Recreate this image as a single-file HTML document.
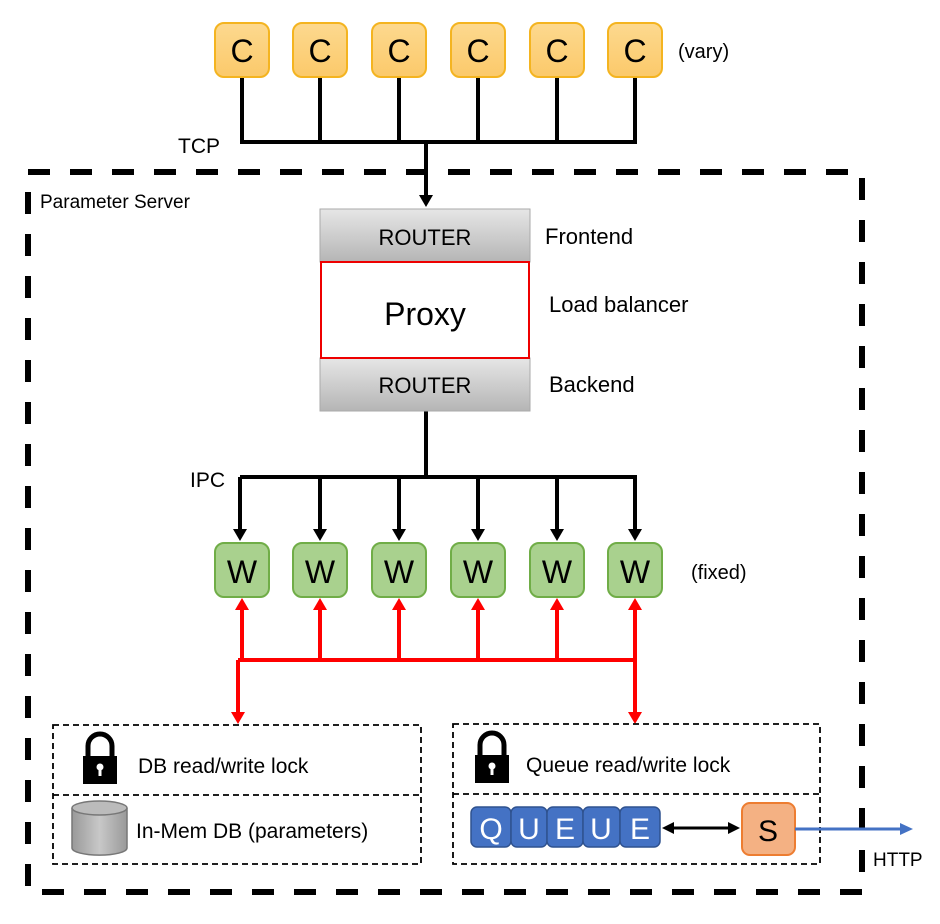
<!DOCTYPE html>
<html><head><style>body{margin:0;background:#fff}svg{display:block}text{font-family:"Liberation Sans",sans-serif}</style></head><body>
<svg width="940" height="924" viewBox="0 0 940 924" xmlns="http://www.w3.org/2000/svg">
<defs>
<linearGradient id="g" x1="0" y1="0" x2="0" y2="1"><stop offset="0" stop-color="#e6e6e6"/><stop offset="1" stop-color="#b5b5b5"/></linearGradient>
<linearGradient id="cg" x1="0" y1="0" x2="0" y2="1"><stop offset="0" stop-color="#fdd98f"/><stop offset="1" stop-color="#fbc96a"/></linearGradient>
<linearGradient id="dbg" x1="0" y1="0" x2="1" y2="0"><stop offset="0" stop-color="#999"/><stop offset=".5" stop-color="#c8c8c8"/><stop offset="1" stop-color="#999"/></linearGradient>
</defs>
<rect x="28" y="172" width="834" height="720" fill="none" stroke="#000" stroke-width="6" stroke-dasharray="22 20"/>
<text x="40" y="208" font-size="19">Parameter Server</text>
<g stroke="#000" stroke-width="4" fill="none">
<path d="M242 77V142M320 77V142M399 77V142M478 77V142M557 77V142M635 77V142M240 142H637M426 142V196"/>
<path d="M426 411V477M240 477H637M240 477V530M320 477V530M399 477V530M478 477V530M557 477V530M635 477V530"/>
</g>
<g fill="#000">
<polygon points="419,195 433,195 426,207"/>
<polygon points="233,529 247,529 240,541"/><polygon points="313,529 327,529 320,541"/><polygon points="392,529 406,529 399,541"/><polygon points="471,529 485,529 478,541"/><polygon points="550,529 564,529 557,541"/><polygon points="628,529 642,529 635,541"/>
</g>
<g font-size="32" text-anchor="middle">
<g fill="url(#cg)" stroke="#f4b420" stroke-width="2">
<rect x="215" y="23" width="54" height="54" rx="9"/><rect x="293" y="23" width="54" height="54" rx="9"/><rect x="372" y="23" width="54" height="54" rx="9"/><rect x="451" y="23" width="54" height="54" rx="9"/><rect x="530" y="23" width="54" height="54" rx="9"/><rect x="608" y="23" width="54" height="54" rx="9"/>
</g>
<text x="242" y="62">C</text><text x="320" y="62">C</text><text x="399" y="62">C</text><text x="478" y="62">C</text><text x="557" y="62">C</text><text x="635" y="62">C</text>
<g fill="#a9d18e" stroke="#70ad47" stroke-width="2">
<rect x="215" y="543" width="54" height="54" rx="9"/><rect x="293" y="543" width="54" height="54" rx="9"/><rect x="372" y="543" width="54" height="54" rx="9"/><rect x="451" y="543" width="54" height="54" rx="9"/><rect x="530" y="543" width="54" height="54" rx="9"/><rect x="608" y="543" width="54" height="54" rx="9"/>
</g>
<text x="242" y="583">W</text><text x="320" y="583">W</text><text x="399" y="583">W</text><text x="478" y="583">W</text><text x="557" y="583">W</text><text x="635" y="583">W</text>
</g>
<text x="678" y="58" font-size="20">(vary)</text>
<text x="691" y="579" font-size="20">(fixed)</text>
<text x="178" y="153" font-size="21">TCP</text>
<text x="190" y="487" font-size="21">IPC</text>
<rect x="320" y="209" width="210" height="53" fill="url(#g)" stroke="#aaa"/>
<rect x="320" y="358" width="210" height="53" fill="url(#g)" stroke="#aaa"/>
<rect x="321" y="262" width="208" height="96" fill="#fff" stroke="#e00" stroke-width="2"/>
<text x="425" y="245" font-size="22" text-anchor="middle">ROUTER</text>
<text x="425" y="393" font-size="22" text-anchor="middle">ROUTER</text>
<text x="425" y="325" font-size="32" text-anchor="middle">Proxy</text>
<text x="545" y="244" font-size="22">Frontend</text>
<text x="549" y="312" font-size="22">Load balancer</text>
<text x="549" y="392" font-size="22">Backend</text>
<g stroke="#f00" stroke-width="4" fill="none">
<path d="M238 660H637M242 660V608M320 660V608M399 660V608M478 660V608M557 660V608M635 660V608M238 660V714M635 660V714"/>
</g>
<g fill="#f00">
<polygon points="235,610 249,610 242,598"/><polygon points="313,610 327,610 320,598"/><polygon points="392,610 406,610 399,598"/><polygon points="471,610 485,610 478,598"/><polygon points="550,610 564,610 557,598"/><polygon points="628,610 642,610 635,598"/>
<polygon points="231,712 245,712 238,724"/><polygon points="628,712 642,712 635,724"/>
</g>
<g fill="none" stroke="#000" stroke-width="1.8" stroke-dasharray="6 4">
<rect x="53" y="725" width="368" height="139"/><line x1="53" y1="795" x2="421" y2="795"/>
<rect x="453" y="724" width="367" height="140"/><line x1="453" y1="794" x2="820" y2="794"/>
</g>
<g>
<path d="M88 758v-12a12 12 0 0 1 24 0v12" fill="none" stroke="#000" stroke-width="5"/>
<rect x="83" y="756" width="34" height="28" fill="#000"/>
<circle cx="100" cy="767" r="3.5" fill="#fff"/><rect x="98.5" y="768" width="3" height="8" fill="#fff"/>
<path d="M480 757v-12a12 12 0 0 1 24 0v12" fill="none" stroke="#000" stroke-width="5"/>
<rect x="475" y="755" width="34" height="28" fill="#000"/>
<circle cx="492" cy="766" r="3.5" fill="#fff"/><rect x="490.5" y="767" width="3" height="8" fill="#fff"/>
</g>
<text x="138" y="773" font-size="21">DB read/write lock</text>
<text x="526" y="772" font-size="21">Queue read/write lock</text>
<path d="M72 808v40a27 7 0 0 0 55 0v-40" fill="url(#dbg)" stroke="#777" stroke-width="1.5"/>
<ellipse cx="99.5" cy="808" rx="27.5" ry="7" fill="#bbb" stroke="#777" stroke-width="1.5"/>
<text x="136" y="838" font-size="21">In-Mem DB (parameters)</text>
<g fill="#4472c4" stroke="#2f528f" stroke-width="1.5">
<rect x="471" y="807" width="40" height="40" rx="6"/><rect x="511" y="807" width="36" height="40" rx="6"/><rect x="547" y="807" width="36" height="40" rx="6"/><rect x="583" y="807" width="37" height="40" rx="6"/><rect x="620" y="807" width="40" height="40" rx="6"/>
</g>
<g fill="#fff" font-size="30" text-anchor="middle">
<text x="491" y="839">Q</text><text x="529" y="839">U</text><text x="565" y="839">E</text><text x="601" y="839">U</text><text x="640" y="839">E</text>
</g>
<line x1="672" y1="828" x2="730" y2="828" stroke="#000" stroke-width="3"/>
<polygon points="662,828 674,822 674,834" fill="#000"/><polygon points="740,828 728,822 728,834" fill="#000"/>
<rect x="742" y="803" width="53" height="52" rx="8" fill="#f4b183" stroke="#ed7d31" stroke-width="2"/>
<text x="768" y="841" font-size="30" text-anchor="middle">S</text>
<line x1="795" y1="829" x2="903" y2="829" stroke="#4472c4" stroke-width="3"/>
<polygon points="913,829 900,823 900,835" fill="#4472c4"/>
<text x="873" y="866" font-size="19">HTTP</text>
</svg>
</body></html>
